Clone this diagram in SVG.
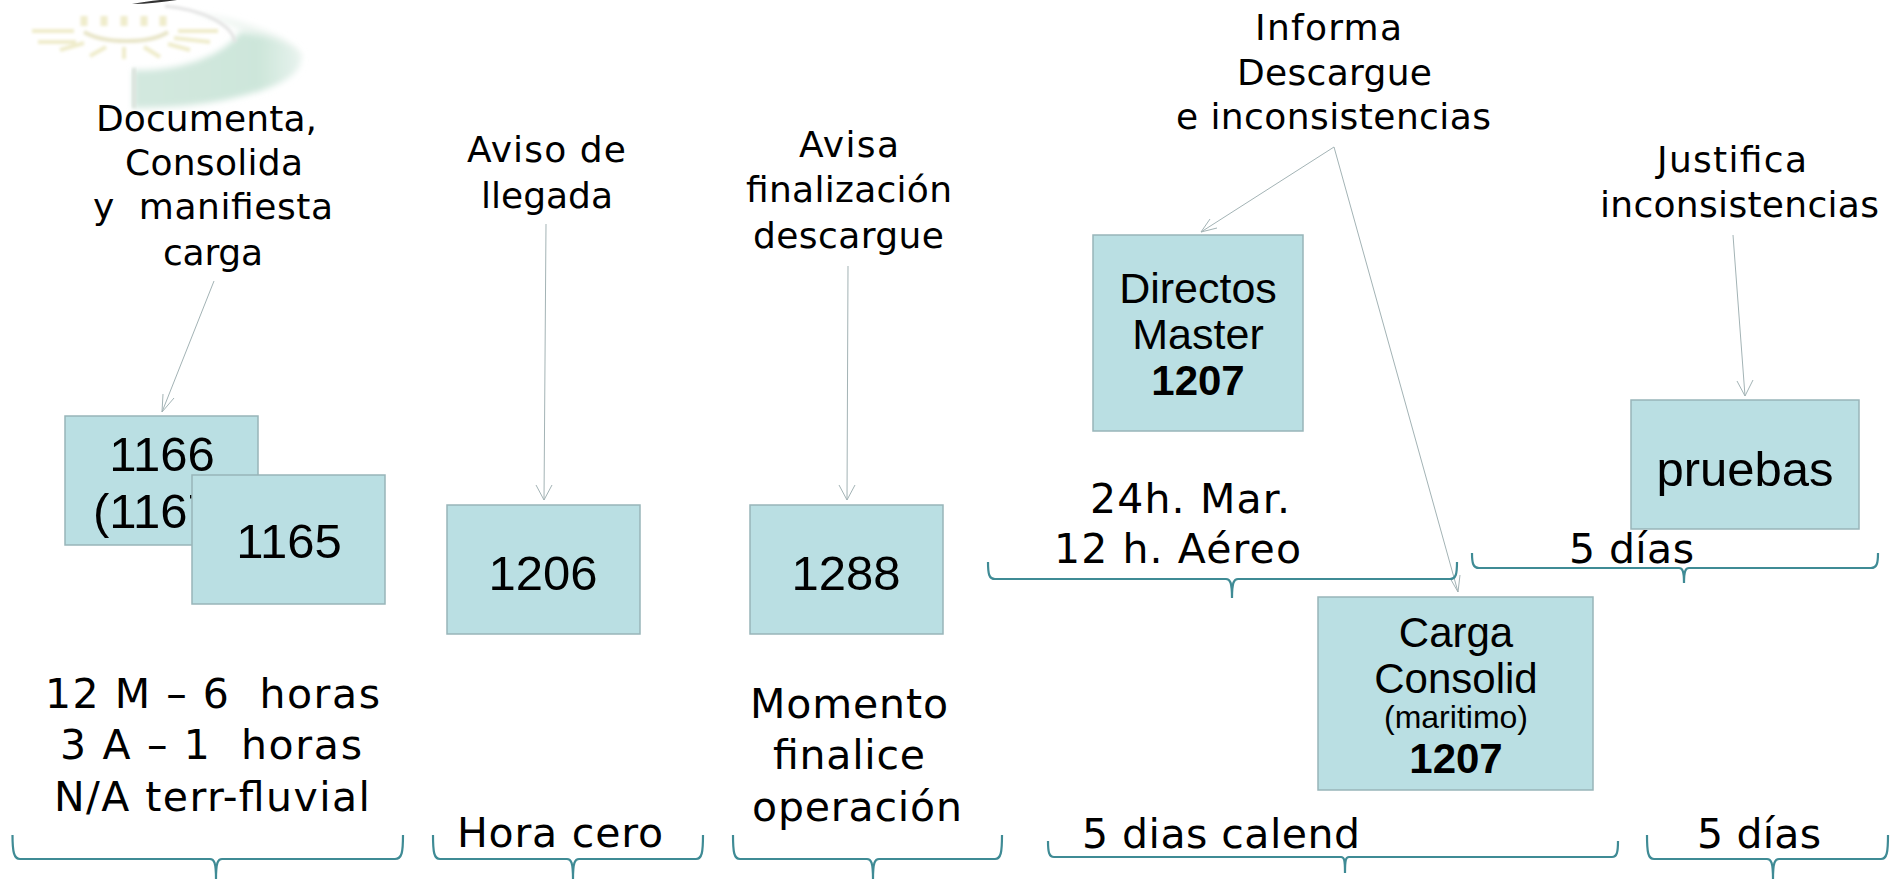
<svg xmlns="http://www.w3.org/2000/svg" width="1892" height="879" viewBox="0 0 1892 879">
<style>
.box{fill:#badfe3;stroke:#98b5b9;stroke-width:1.5}
.t{font-family:"DejaVu Sans",Verdana,sans-serif;font-size:36px;fill:#000;white-space:pre}
.l{font-size:41px}
.b{font-family:"Liberation Sans",Arial,sans-serif;font-size:49px;fill:#000;text-anchor:middle}
.m{font-size:43px}
.s{font-size:42px}
.bd{font-weight:700}
.c{fill:none;stroke:#a3b3b5;stroke-width:1}
.br{fill:none;stroke:#3f8b95;stroke-width:2.2}
</style>
<defs><filter id="blur" x="-20%" y="-20%" width="140%" height="140%"><feGaussianBlur stdDeviation="3"/></filter>
<filter id="blur2" x="-20%" y="-20%" width="140%" height="140%"><feGaussianBlur stdDeviation="1.5"/></filter>
<linearGradient id="g" x1="0" y1="0" x2="1" y2="0"><stop offset="0" stop-color="#d3e8df"/><stop offset=".75" stop-color="#cde6da"/><stop offset="1" stop-color="#e8f3ee"/></linearGradient></defs>
<rect width="1892" height="879" fill="#fff"/>
<g id="logo">
<path d="M190 12C240 18 290 35 302 55C302 62 285 60 270 48C250 32 220 20 190 12Z" fill="#eef5f1" filter="url(#blur)"/>
<path d="M133 70C180 72 225 55 240 32C268 35 298 45 301 60C300 80 262 92 225 100C195 106 160 108 133 108Z" fill="url(#g)" filter="url(#blur)"/>
<rect x="132" y="68" width="4" height="40" fill="#dbe3dd" filter="url(#blur2)"/>
<path d="M165 6C205 10 232 25 235 42" fill="none" stroke="#e3e3e3" stroke-width="3" filter="url(#blur2)"/>
<g stroke="#efeccb" stroke-width="4" fill="none" filter="url(#blur2)">
<path d="M84 16v10M104 16v10M124 16v10M144 16v10M163 16v10" stroke-width="7"/>
<path d="M32 31h42M178 31h40M38 42h38M174 38l36 4M60 50l24-7M168 44l22 6M90 56l16-9M124 47v12M144 47l16 10"/>
<path d="M84 32c20 12 66 12 84 0" stroke="#e8e5c8"/>
</g>
</g>
<path d="M132 4C148 4 162 2 177 0H160C150 1 142 2 132 4Z" fill="#333"/>
<g id="connectors">
<path class="c" d="M214 281L162 412M162 412L163 394M162 412L174 398"/>
<path class="c" d="M546 224L544 500M544 500L536 485M544 500L552 485"/>
<path class="c" d="M848 266L847 500M847 500L839 485M847 500L855 485"/>
<path class="c" d="M1334 147L1201 232M1201 232L1217 228M1201 232L1210 219"/>
<path class="c" d="M1334 147L1458 592M1458 592L1450 578M1458 592L1460 575"/>
<path class="c" d="M1733 235L1745 396M1745 396L1737 381M1745 396L1753 380"/>
</g>
<g id="n1166"><rect class="box" x="65" y="416" width="193" height="129"/><text class="b" x="162" y="471">1166</text><text class="b" x="93" y="528" style="text-anchor:start">(1167)</text></g>
<g id="n1165"><rect class="box" x="192" y="475" width="193" height="129"/><text class="b" x="289" y="558">1165</text></g>
<g id="n1206"><rect class="box" x="447" y="505" width="193" height="129"/><text class="b" x="543" y="590">1206</text></g>
<g id="n1288"><rect class="box" x="750" y="505" width="193" height="129"/><text class="b" x="846" y="590">1288</text></g>
<g id="n1207a"><rect class="box" x="1093" y="235" width="210" height="196"/><text class="b m" x="1198" y="303">Directos</text><text class="b m" x="1198" y="349">Master</text><text class="b s bd" x="1198" y="395">1207</text></g>
<g id="n1207b"><rect class="box" x="1318" y="597" width="275" height="193"/><text class="b s" x="1456" y="647">Carga</text><text class="b s" x="1456" y="693">Consolid</text><text class="b" x="1456" y="728" style="font-size:32px">(maritimo)</text><text class="b s bd" x="1456" y="773">1207</text></g>
<g id="npruebas"><rect class="box" x="1631" y="400" width="228" height="129"/><text class="b" x="1745" y="486">pruebas</text></g>
<g id="labels">
<text class="t" x="96" y="131" textLength="221">Documenta,</text>
<text class="t" x="125" y="175" textLength="178">Consolida</text>
<text class="t" x="93" y="219" textLength="240">y  manifiesta</text>
<text class="t" x="163" y="265" textLength="100">carga</text>
<text class="t" x="467" y="162" textLength="159">Aviso de</text>
<text class="t" x="481" y="208" textLength="132">llegada</text>
<text class="t" x="799" y="157" textLength="100">Avisa</text>
<text class="t" x="746" y="202" textLength="206">finalización</text>
<text class="t" x="753" y="248" textLength="191">descargue</text>
<text class="t" x="1255" y="40" textLength="147">Informa</text>
<text class="t" x="1237" y="85" textLength="195">Descargue</text>
<text class="t" x="1176" y="129" textLength="315">e inconsistencias</text>
<text class="t" x="1657" y="172" textLength="150">Justifica</text>
<text class="t" x="1600" y="217" textLength="279">inconsistencias</text>
<text class="t l" x="45" y="708" textLength="335">12 M – 6  horas</text>
<text class="t l" x="60" y="759" textLength="302">3 A – 1  horas</text>
<text class="t l" x="54" y="811" textLength="316">N/A terr-fluvial</text>
<text class="t l" x="457" y="847" textLength="206">Hora cero</text>
<text class="t l" x="750" y="718" textLength="198">Momento</text>
<text class="t l" x="773" y="769" textLength="152">finalice</text>
<text class="t l" x="752" y="821" textLength="210">operación</text>
<text class="t l" x="1090" y="513" textLength="200">24h. Mar.</text>
<text class="t l" x="1054" y="563" textLength="247">12 h. Aéreo</text>
<text class="t l" x="1569" y="563" textLength="125">5 días</text>
<text class="t l" x="1082" y="848" textLength="278">5 dias calend</text>
<text class="t l" x="1697" y="848" textLength="124">5 días</text>
</g>
<g id="braces">
<path class="br" d="M12.500 835C12.500 852 14 859 20 859H210C214 859 216 862 216 879M216 879C216 862 218 859 222 859H395C402 859 403 852 403 835"/>
<path class="br" d="M433 835C433 852 434 859 440 859H567C571 859 573 862 573 879M573 879C573 862 575 859 579 859H696C702 859 703 852 703 835"/>
<path class="br" d="M733 835C733 852 734 859 740 859H867C871 859 873 862 873 879M873 879C873 862 875 859 879 859H995C1001 859 1002 852 1002 835"/>
<path class="br" d="M1048 841C1048 852 1049 857 1054 857H1341C1344 857 1345 859 1345 873M1345 873C1345 859 1346 857 1349 857H1612C1617 857 1618 852 1618 841"/>
<path class="br" d="M1647 835C1647 852 1648 859 1654 859H1767C1771 859 1773 862 1773 879M1773 879C1773 862 1775 859 1779 859H1881C1887 859 1888 852 1888 835"/>
<path class="br" d="M988 562C988 574 989 579 995 579H1226C1230 579 1232 582 1232 598M1232 598C1232 582 1234 579 1238 579H1450C1456 579 1457 574 1457 562"/>
<path class="br" d="M1472 553C1472 563 1473 568 1479 568H1679C1682 568 1684 570 1684 583M1684 583C1684 570 1686 568 1689 568H1871C1877 568 1878 563 1878 553"/>
</g>
</svg>
